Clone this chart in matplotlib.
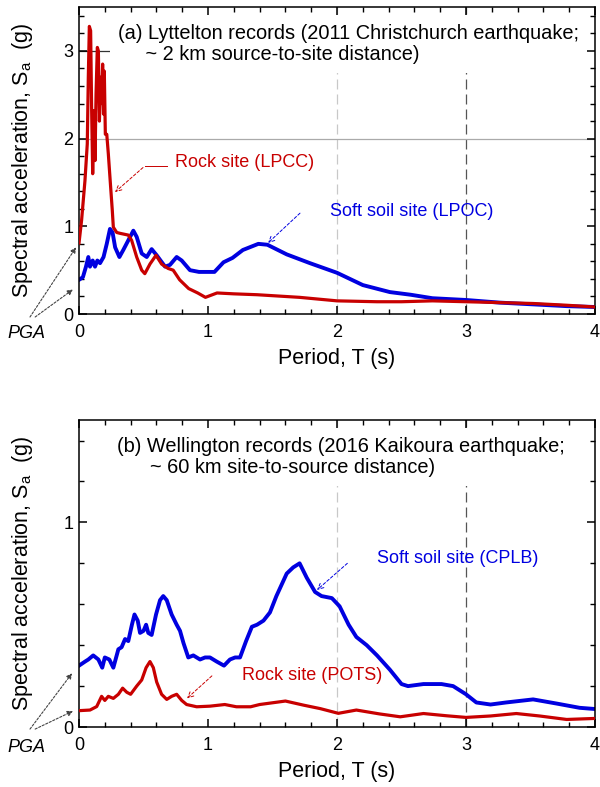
import numpy as np
import matplotlib
matplotlib.use("Agg")
from matplotlib import pyplot as plt
from matplotlib.ticker import MultipleLocator

plt.rcParams['font.family'] = ['Liberation Sans', 'DejaVu Sans']
plt.rcParams['mathtext.fontset'] = 'custom'
plt.rcParams['mathtext.rm'] = 'Liberation Sans'
plt.rcParams['mathtext.it'] = 'Liberation Sans:italic'

# (a) Lyttelton, 2011 Christchurch earthquake
T_lpcc = [0.0, 0.02, 0.046, 0.064, 0.072, 0.08, 0.09, 0.098, 0.106, 0.116, 0.124, 0.132,
          0.142, 0.15, 0.158, 0.168, 0.176, 0.183, 0.19, 0.196, 0.204, 0.215, 0.227, 0.245,
          0.258, 0.266, 0.292, 0.318, 0.382, 0.408, 0.447, 0.486, 0.51, 0.55, 0.597, 0.64,
          0.69, 0.73, 0.78, 0.85, 0.92, 0.98, 1.07, 1.2, 1.38, 1.71, 2.0, 2.31, 2.5, 2.74,
          3.0, 3.26, 3.52, 3.78, 4.0]
Sa_lpcc = [0.81, 1.07, 1.52, 1.94, 2.70, 3.28, 3.23, 2.32, 1.60, 2.32, 1.75, 2.51,
           3.04, 3.0, 2.20, 2.70, 2.40, 2.85, 2.28, 2.77, 2.05, 2.05, 1.83, 1.45,
           1.18, 0.99, 0.93, 0.92, 0.90, 0.84, 0.65, 0.50, 0.46, 0.57, 0.67, 0.57,
           0.52, 0.50, 0.39, 0.29, 0.24, 0.19, 0.24, 0.23, 0.22, 0.19, 0.15, 0.14, 0.14, 0.15,
           0.14, 0.13, 0.12, 0.10, 0.08]

T_lpoc = [0.0, 0.03, 0.054, 0.072, 0.085, 0.106, 0.124, 0.142, 0.163, 0.19, 0.215, 0.24,
          0.26, 0.28, 0.313, 0.343, 0.382, 0.421, 0.447, 0.486, 0.525, 0.563, 0.602, 0.667,
          0.705, 0.757, 0.796, 0.86, 0.93, 1.05, 1.12, 1.19, 1.27, 1.39, 1.46, 1.61, 1.79,
          2.0, 2.2, 2.41, 2.57, 2.74, 3.0, 3.26, 3.52, 3.78, 4.0]
Sa_lpoc = [0.39, 0.42, 0.54, 0.65, 0.54, 0.61, 0.54, 0.61, 0.58, 0.65, 0.80, 0.97,
           0.93, 0.76, 0.65, 0.73, 0.84, 0.95, 0.88, 0.69, 0.65, 0.74, 0.67, 0.54,
           0.56, 0.65, 0.61, 0.50, 0.48, 0.48, 0.59, 0.64, 0.73, 0.80, 0.79, 0.68, 0.58,
           0.47, 0.33, 0.25, 0.22, 0.18, 0.16, 0.13, 0.11, 0.09, 0.08]

# (b) Wellington, 2016 Kaikoura earthquake
T_cplb = [0.0, 0.047, 0.072, 0.11, 0.15, 0.18, 0.2, 0.235, 0.266, 0.305, 0.33, 0.357,
          0.382, 0.41, 0.43, 0.455, 0.473, 0.5, 0.52, 0.537, 0.563, 0.597, 0.628, 0.653,
          0.68, 0.718, 0.757, 0.783, 0.81, 0.847, 0.886, 0.938, 0.977, 1.015, 1.067, 1.124,
          1.17, 1.21, 1.248, 1.295, 1.34, 1.38, 1.43, 1.48, 1.53, 1.61, 1.66, 1.71, 1.765,
          1.83, 1.88, 1.96, 2.02, 2.09, 2.15, 2.23, 2.31, 2.41, 2.5, 2.55, 2.67, 2.81, 2.9,
          3.0, 3.08, 3.19, 3.31, 3.52, 3.7, 3.88, 4.0]
Sa_cplb = [0.30, 0.32, 0.33, 0.35, 0.33, 0.29, 0.34, 0.33, 0.29, 0.38, 0.39, 0.43,
           0.42, 0.50, 0.55, 0.52, 0.46, 0.47, 0.50, 0.46, 0.45, 0.55, 0.62, 0.64,
           0.62, 0.55, 0.50, 0.47, 0.41, 0.34, 0.35, 0.33, 0.34, 0.34, 0.32, 0.30,
           0.33, 0.34, 0.34, 0.42, 0.49, 0.50, 0.52, 0.56, 0.64, 0.75, 0.78, 0.80, 0.73,
           0.66, 0.64, 0.63, 0.59, 0.50, 0.44, 0.40, 0.35, 0.28, 0.21, 0.20, 0.21, 0.21, 0.20,
           0.16, 0.12, 0.11, 0.12, 0.135, 0.115, 0.094, 0.088]

T_pots = [0.0, 0.085, 0.137, 0.175, 0.2, 0.227, 0.266, 0.305, 0.338, 0.37, 0.4, 0.447,
          0.486, 0.52, 0.55, 0.576, 0.602, 0.64, 0.68, 0.718, 0.757, 0.796, 0.834, 0.912,
          1.015, 1.13, 1.22, 1.33, 1.4, 1.6, 1.74, 1.87, 2.01, 2.15, 2.33, 2.49, 2.67, 2.85,
          3.0, 3.19, 3.39, 3.57, 3.78, 4.0]
Sa_pots = [0.08, 0.083, 0.10, 0.15, 0.13, 0.15, 0.14, 0.16, 0.19, 0.17, 0.16, 0.20,
           0.23, 0.29, 0.32, 0.29, 0.22, 0.16, 0.135, 0.15, 0.16, 0.13, 0.11, 0.099,
           0.102, 0.11, 0.099, 0.099, 0.11, 0.127, 0.107, 0.09, 0.067, 0.083, 0.064, 0.05,
           0.066, 0.055, 0.047, 0.054, 0.066, 0.054, 0.037, 0.042]

RED = '#c80000'
BLUE = '#0000e0'

fig = plt.figure(figsize=(6, 7.87), dpi=100)
ax1 = fig.add_axes([0.1317, 0.601, 0.86, 0.390])
ax2 = fig.add_axes([0.1317, 0.0762, 0.86, 0.390])


def style(ax, ymax):
    ax.set_xlim(0, 4)
    ax.set_ylim(0, ymax)
    ax.xaxis.set_major_locator(MultipleLocator(1))
    ax.xaxis.set_minor_locator(MultipleLocator(0.2))
    ax.yaxis.set_major_locator(MultipleLocator(1))
    ax.yaxis.set_minor_locator(MultipleLocator(0.2))
    ax.tick_params(which='both', direction='in', top=True, right=True, labelsize=13)
    ax.tick_params(which='major', length=6, width=1.1)
    ax.tick_params(which='minor', length=3.5, width=1.0)
    ax.tick_params(axis='x', pad=7)
    ax.tick_params(axis='y', pad=4)
    for s in ax.spines.values():
        s.set_linewidth(1.1)
    ax.set_xlabel('Period, T (s)', fontsize=15.5, labelpad=5)
    ax.set_ylabel(r'Spectral acceleration, S$_\mathrm{a}$  (g)', fontsize=15.5)
    ax.yaxis.set_label_coords(-0.085, 0.5)
    ax.axvline(2, color='#c8c8c8', lw=0.9, ls=(0, (8, 4)), zorder=0)
    ax.axvline(3, color='#555555', lw=0.9, ls=(0, (8, 4)), zorder=0)


def pga(ax, tips, tail_y, text_y):
    for i, (tx, ty) in enumerate(tips):
        ax.annotate('', xy=(tx, ty), xytext=(-0.38 + 0.04 * i, tail_y),
                    arrowprops=dict(arrowstyle='-|>', color='#444444', lw=0.8,
                                    ls=(0, (2, 1.5)), mutation_scale=8,
                                    shrinkA=0, shrinkB=0),
                    annotation_clip=False)
    ax.text(-0.41, text_y, 'PGA', style='italic', fontsize=13, ha='center',
            va='center', clip_on=False)


# panel (a)
style(ax1, 3.5)
ax1.axhline(2, color='#aaaaaa', lw=0.9, zorder=0)
ax1.hlines(3, 0, 0.29, color='#333333', lw=0.9, zorder=1)
ax1.plot(T_lpcc, Sa_lpcc, color=RED, lw=2.3, zorder=3)
ax1.plot(T_lpoc, Sa_lpoc, color=BLUE, lw=2.8, zorder=2)
ax1.text(0.0756, 0.945,
         '(a) Lyttelton records (2011 Christchurch earthquake;\n     ~ 2 km source-to-site distance)',
         transform=ax1.transAxes, fontsize=14.4, ha='left', va='top', linespacing=1.15,
         bbox=dict(facecolor='white', edgecolor='none', pad=6), zorder=5)
ax1.text(0.744, 1.73, 'Rock site (LPCC)', color=RED, fontsize=13, ha='left', va='center')
ax1.plot([0.512, 0.682], [1.69, 1.69], color=RED, lw=0.7)
ax1.annotate('', xy=(0.279, 1.39), xytext=(0.496, 1.67),
             arrowprops=dict(arrowstyle='->', color=RED, lw=0.7, ls=(0, (3, 2)),
                             shrinkA=0, shrinkB=0))
ax1.text(1.946, 1.17, 'Soft soil site (LPOC)', color=BLUE, fontsize=13, ha='left', va='center')
ax1.annotate('', xy=(1.465, 0.81), xytext=(1.713, 1.15),
             arrowprops=dict(arrowstyle='->', color=BLUE, lw=0.7, ls=(0, (3, 2)),
                             shrinkA=0, shrinkB=0))
pga(ax1, [(-0.023, 0.76), (-0.047, 0.28)], -0.034, -0.22)

# panel (b)
style(ax2, 1.5)
ax2.plot(T_pots, Sa_pots, color=RED, lw=2.3, zorder=3)
ax2.plot(T_cplb, Sa_cplb, color=BLUE, lw=2.8, zorder=2)
ax2.text(0.0736, 0.945,
         '(b) Wellington records (2016 Kaikoura earthquake;\n      ~ 60 km site-to-source distance)',
         transform=ax2.transAxes, fontsize=14.4, ha='left', va='top', linespacing=1.15,
         bbox=dict(facecolor='white', edgecolor='none', pad=6), zorder=5)
ax2.text(2.31, 0.824, 'Soft soil site (CPLB)', color=BLUE, fontsize=13, ha='left', va='center')
ax2.annotate('', xy=(1.845, 0.67), xytext=(2.08, 0.80),
             arrowprops=dict(arrowstyle='->', color=BLUE, lw=0.7, ls=(0, (3, 2)),
                             shrinkA=0, shrinkB=0))
ax2.text(1.264, 0.254, 'Rock site (POTS)', color=RED, fontsize=13, ha='left', va='center')
ax2.annotate('', xy=(0.837, 0.14), xytext=(1.03, 0.25),
             arrowprops=dict(arrowstyle='->', color=RED, lw=0.7, ls=(0, (3, 2)),
                             shrinkA=0, shrinkB=0))
pga(ax2, [(-0.054, 0.263), (-0.047, 0.078)], -0.01, -0.098)

fig.savefig('out.png', dpi=100)
